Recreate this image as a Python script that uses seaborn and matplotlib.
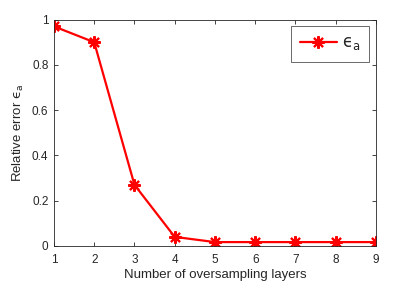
import matplotlib
matplotlib.use("Agg")
import matplotlib.pyplot as plt
import seaborn as sns
import pandas as pd

layers = [1, 2, 3, 4, 5, 6, 7, 8, 9]
rel_error = [0.97, 0.90, 0.27, 0.04, 0.017, 0.017, 0.017, 0.017, 0.017]
series_label = r"$\mathrm{ϵ}_{\mathrm{a}}$"
xticks = [1, 2, 3, 4, 5, 6, 7, 8, 9]
yticks = [0, 0.2, 0.4, 0.6, 0.8, 1]
ytick_labels = ["0", "0.2", "0.4", "0.6", "0.8", "1"]

sns.set_style("ticks")
plt.rcParams['font.family'] = ['Liberation Sans', 'DejaVu Sans']
plt.rcParams['mathtext.fontset'] = 'custom'
plt.rcParams['mathtext.rm'] = 'DejaVu Sans'

df = pd.DataFrame({"layers": layers, "err": rel_error})

fig = plt.figure(figsize=(4.15, 2.84), dpi=100)
ax = fig.add_axes([0.130, 0.134, 0.776, 0.797])
sns.lineplot(data=df, x="layers", y="err", ax=ax, color="#ff0000", lw=1.6,
             marker=(8, 2, 0), markersize=9, markeredgewidth=1.5,
             markeredgecolor="#ff0000", label=series_label)

ax.set_xlim(1, 9)
ax.set_ylim(0, 1)
ax.set_xticks(xticks)
ax.set_yticks(yticks)
ax.set_yticklabels(ytick_labels)
ax.tick_params(direction="in", length=3, width=0.6, colors="#262626",
               labelsize=8.5, top=True, right=True)
ax.tick_params(axis="x", pad=6)
ax.tick_params(axis="y", pad=4)
for s in ax.spines.values():
    s.set_linewidth(0.6)
    s.set_color("#262626")
ax.set_xlabel("Number of oversampling layers", fontsize=9.5, color="#262626", labelpad=2)
ax.set_ylabel(r"Relative error $\mathrm{ϵ}_{\mathrm{a}}$", fontsize=9.5, color="#262626", labelpad=4)

leg = ax.legend(loc="upper right", fontsize=12, frameon=True, fancybox=False,
                handlelength=2.2, borderaxespad=0.4, borderpad=0.55, handletextpad=0.3)
leg.get_frame().set_edgecolor("#262626")
leg.get_frame().set_linewidth(0.6)

fig.savefig("out.png", dpi=100)
